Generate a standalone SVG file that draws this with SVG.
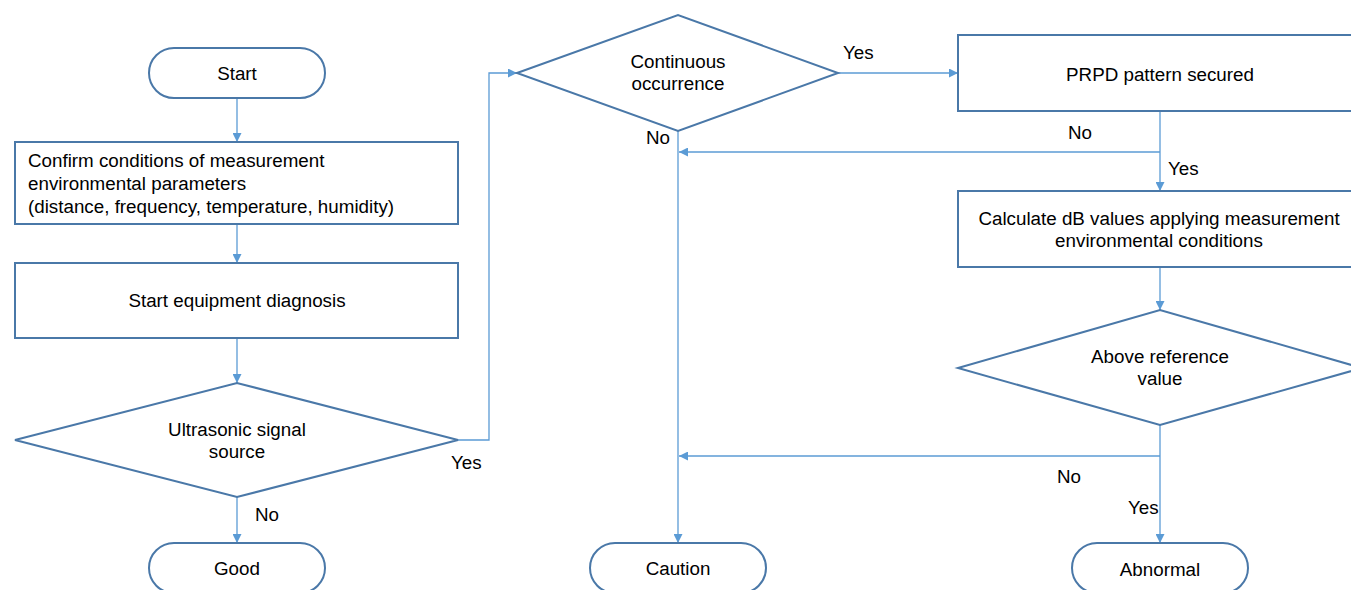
<svg xmlns="http://www.w3.org/2000/svg" width="1351" height="590" viewBox="0 0 1351 590">
<style>
.n{fill:#fff;stroke:#4a78a8;stroke-width:2}
.c{fill:none;stroke:#5b9bd5;stroke-width:1.3}
text{font-family:"Liberation Sans",Arial,sans-serif;font-size:18.8px;fill:#000}
.m{text-anchor:middle}
</style>
<defs>
<marker id="a" viewBox="0 0 10 10" refX="10" refY="5" markerWidth="9" markerHeight="9" markerUnits="userSpaceOnUse" orient="auto">
<path d="M0,0 L10,5 L0,10 z" fill="#5b9bd5"/>
</marker>
</defs>
<rect width="1351" height="590" fill="#fff"/>
<g id="connectors">
<path class="c" d="M237,98 V142" marker-end="url(#a)"/>
<path class="c" d="M237,224 V263" marker-end="url(#a)"/>
<path class="c" d="M237,338 V383" marker-end="url(#a)"/>
<path class="c" d="M237,497 V543" marker-end="url(#a)"/>
<path class="c" d="M458,440 H489 V73 H517" marker-end="url(#a)"/>
<path class="c" d="M838,73 H958" marker-end="url(#a)"/>
<path class="c" d="M678,131 V543" marker-end="url(#a)"/>
<path class="c" d="M1160,111 V191" marker-end="url(#a)"/>
<path class="c" d="M1160,152 H679" marker-end="url(#a)"/>
<path class="c" d="M1160,267 V310" marker-end="url(#a)"/>
<path class="c" d="M1160,425 V543" marker-end="url(#a)"/>
<path class="c" d="M1160,456 H679" marker-end="url(#a)"/>
<text x="451" y="469">Yes</text>
<text x="255" y="521">No</text>
<text x="843" y="59">Yes</text>
<text x="646" y="144">No</text>
<text x="1068" y="139">No</text>
<text x="1168" y="175">Yes</text>
<text x="1057" y="483">No</text>
<text x="1128" y="514">Yes</text>
</g>
<g id="start">
<rect class="n" x="149" y="48" width="176" height="50" rx="25"/>
<text class="m" x="237" y="80">Start</text>
</g>
<g id="confirm">
<rect class="n" x="15" y="142" width="443" height="82"/>
<text x="28" y="167">Confirm conditions of measurement</text>
<text x="28" y="190">environmental parameters</text>
<text x="28" y="213">(distance, frequency, temperature, humidity)</text>
</g>
<g id="startdiag">
<rect class="n" x="15" y="263" width="443" height="75"/>
<text class="m" x="237" y="307">Start equipment diagnosis</text>
</g>
<g id="ultrasonic">
<polygon class="n" points="15,440 237,383 458,440 237,497"/>
<text class="m" x="237" y="436">Ultrasonic signal</text>
<text class="m" x="237" y="458">source</text>
</g>
<g id="good">
<rect class="n" x="149" y="543" width="176" height="50" rx="25"/>
<text class="m" x="237" y="575">Good</text>
</g>
<g id="continuous">
<polygon class="n" points="517,73 678,15 838,73 678,131"/>
<text class="m" x="678" y="68">Continuous</text>
<text class="m" x="678" y="90">occurrence</text>
</g>
<g id="caution">
<rect class="n" x="590" y="543" width="176" height="50" rx="25"/>
<text class="m" x="678" y="575">Caution</text>
</g>
<g id="prpd">
<rect class="n" x="958" y="35" width="404" height="76"/>
<text class="m" x="1160" y="81">PRPD pattern secured</text>
</g>
<g id="calc">
<rect class="n" x="958" y="191" width="404" height="76"/>
<text class="m" x="1159" y="225">Calculate dB values applying measurement</text>
<text class="m" x="1159" y="247">environmental conditions</text>
</g>
<g id="above">
<polygon class="n" points="958,368 1160,310 1362,368 1160,425"/>
<text class="m" x="1160" y="363">Above reference</text>
<text class="m" x="1160" y="385">value</text>
</g>
<g id="abnormal">
<rect class="n" x="1072" y="543" width="176" height="50" rx="25"/>
<text class="m" x="1160" y="576">Abnormal</text>
</g>
</svg>
